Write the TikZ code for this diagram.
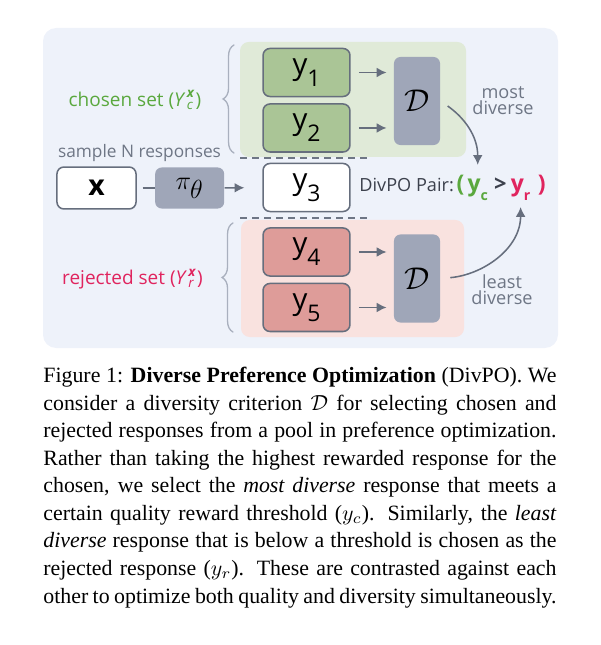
\documentclass[tikz,border=0pt]{standalone}
\usepackage{amsmath,amssymb}
\usepackage{fontspec}
\setmainfont{Liberation Serif}
\setsansfont{Open Sans}
\usepackage{tikz}
\usetikzlibrary{positioning,arrows.meta,decorations.pathreplacing}

\definecolor{panelbg}{HTML}{EEF2FA}
\definecolor{chosenbg}{HTML}{E0EAD8}
\definecolor{rejectbg}{HTML}{F9E2DF}
\definecolor{chosenfill}{HTML}{AAC596}
\definecolor{rejectfill}{HTML}{DE9C99}
\definecolor{critfill}{HTML}{9FA6B8}
\definecolor{edgegray}{HTML}{666E7D}
\definecolor{labelgray}{HTML}{6E7685}
\definecolor{bracegray}{HTML}{A9B0BE}
\definecolor{pairgray}{HTML}{3C414D}
\definecolor{chosencol}{HTML}{5AA83E}
\definecolor{rejectcol}{HTML}{E0245E}

% response label with a dropped index
\newcommand{\ysub}[1]{y\raisebox{-0.4em}{\fontsize{10.5}{10.5}\selectfont #1}}

\begin{document}
\begin{tikzpicture}[x=0.4578pt,y=0.4578pt,>={Latex[length=4.5pt,width=4.5pt]},
                    font=\sffamily\fontsize{8.3}{9}\selectfont]
  \tikzset{resp/.style={draw=edgegray,line width=0.7pt,rounded corners=3.2pt,
                        minimum width=39.8pt,minimum height=22pt,inner sep=0pt,
                        font=\sffamily\fontsize{13.5}{14}\selectfont},
           crit/.style={fill=critfill,rounded corners=3pt,minimum width=21.1pt,
                        minimum height=40.3pt,font=\fontsize{13.5}{13.5}\selectfont},
           conn/.style={draw=edgegray,line width=0.7pt},
           lbl/.style={inner sep=0pt},
           pairbig/.style={inner sep=0.5pt,font=\sffamily\bfseries\fontsize{10.5}{11}\selectfont},
           setbrace/.style={draw=bracegray,line width=0.6pt,line cap=round,
                            decorate,decoration={brace,amplitude=5pt}},
           dashsep/.style={draw=labelgray,line width=0.7pt,dash pattern=on 3.2pt off 2.3pt}}

  \useasboundingbox (0,0) rectangle (600,-645);

  % panels
  \fill[panelbg,rounded corners=6pt] (43,-28) rectangle (558,-348);
  \fill[chosenbg,rounded corners=4pt] (240,-42) rectangle (466,-157);
  \fill[rejectbg,rounded corners=4pt] (241,-220) rectangle (464,-337);
  \draw[dashsep] (240,-158) -- (367,-158);
  \draw[dashsep] (240,-218) -- (367,-218);

  % responses and criterion
  \node[resp,fill=chosenfill] (y1) at (306.5,-72.5) {\ysub{1}};
  \node[resp,fill=chosenfill] (y2) [below=2.7pt of y1] {\ysub{2}};
  \node[resp,fill=white]      (y3) at (306.5,-187.5) {\ysub{3}};
  \node[resp,fill=rejectfill] (y4) at (306.5,-252) {\ysub{4}};
  \node[resp,fill=rejectfill] (y5) [below=2.7pt of y4] {\ysub{5}};

  \node[crit] (Dc) at (417,-101) {$\mathcal{D}$};
  \node[crit] (Dr) at (417,-278.5) {$\mathcal{D}$};

  \node[draw=edgegray,line width=0.7pt,fill=white,rounded corners=3.2pt,
        minimum width=36.2pt,minimum height=19.2pt,
        font=\sffamily\bfseries\fontsize{13}{13}\selectfont] (x) at (96.5,-188) {x};
  \node[fill=critfill,rounded corners=3pt,minimum width=31.6pt,minimum height=18.8pt,
        font=\fontsize{12.5}{12.5}\selectfont] (pi) [right=8.2pt of x] {$\pi_{\textstyle\theta}$};

  % labels
  \node[lbl,text=labelgray,font=\sffamily\fontsize{7.9}{9}\selectfont] (sample) at (139.5,-153) {sample N responses};
  \node[lbl,text=chosencol,font=\sffamily\fontsize{8.7}{9}\selectfont] (chosen) at (135,-100)
       {chosen set (\textit{Y}\kern0.6pt$^{\textbf{\textit{x}}}_{\textit{c}}$)};
  \node[lbl,text=rejectcol,font=\sffamily\fontsize{8.7}{9}\selectfont] (rejected) at (132.5,-279)
       {rejected set (\textit{Y}\kern0.6pt$^{\textbf{\textit{x}}}_{\textit{r}}$)};
  \node[lbl,text=labelgray,align=center,font=\sffamily\fontsize{8.3}{7.4}\selectfont]
       (most) at (503,-101) {most\\diverse};
  \node[lbl,text=labelgray,align=center,font=\sffamily\fontsize{8.3}{7.4}\selectfont]
       (least) at (502,-290) {least\\diverse};

  % the pair
  \node[lbl,text=pairgray,anchor=base west] (pair) at (359,-192) {DivPO Pair:};
  \node[pairbig,text=chosencol] (lp) [base right=0.4pt of pair] {(};
  \node[pairbig,text=chosencol] (yc) [base right=0pt of lp]
       {y\raisebox{-0.35em}{\fontsize{6.5}{6.5}\selectfont c}};
  \node[lbl,text=pairgray,font=\sffamily\bfseries\fontsize{10}{10}\selectfont] (gt) [base right=2pt of yc] {>};
  \node[pairbig,text=rejectcol] (yr) [base right=1pt of gt]
       {y\raisebox{-0.35em}{\fontsize{6.5}{6.5}\selectfont r}};
  \node[pairbig,text=rejectcol] (rp) [base right=2pt of yr] {)};

  % braces
  \draw[setbrace] (234,-153) -- (234,-45);
  \draw[setbrace] (233,-332) -- (233,-223);

  % connectors
  \draw[conn,shorten <=2.7pt] (x) -- (pi);
  \draw[conn,->,shorten >=8.2pt] (pi) -- (y3);
  \draw[conn,->,shorten <=3.7pt,shorten >=3.2pt] (y1) -- (y1 -| Dc.west);
  \draw[conn,->,shorten <=3.7pt,shorten >=3.2pt] (y2) -- (y2 -| Dc.west);
  \draw[conn,->,shorten <=3.7pt,shorten >=3.2pt] (y4) -- (y4 -| Dr.west);
  \draw[conn,->,shorten <=3.7pt,shorten >=3.2pt] (y5) -- (y5 -| Dr.west);
  \draw[conn,->,shorten <=4pt] (Dc.east) to[out=-35,in=90] ([yshift=6pt]yc.north);
  \draw[conn,->,shorten <=4.5pt] (Dr.east) to[out=5,in=-90] ([yshift=-2.5pt]yr.south);

  % caption
  \node[anchor=north west,inner sep=0pt,text width=234.9pt,align=justify,
        font=\rmfamily\fontsize{10}{12.6}\selectfont] (caption) at (43,-367)
  {Figure 1: \textbf{Diverse Preference Optimization} (DivPO). We\linebreak
   consider a diversity criterion $\mathcal{D}$ for selecting chosen and\linebreak
   rejected responses from a pool in preference optimization.\linebreak
   Rather than taking the highest rewarded response for the\linebreak
   chosen, we select the \textit{most diverse} response that meets a\linebreak
   certain quality reward threshold ($y_c$). Similarly, the \textit{least}\linebreak
   \textit{diverse} response that is below a threshold is chosen as the\linebreak
   rejected response ($y_r$). These are contrasted against each\linebreak
   other to optimize both quality and diversity simultaneously.};
\end{tikzpicture}
\end{document}
